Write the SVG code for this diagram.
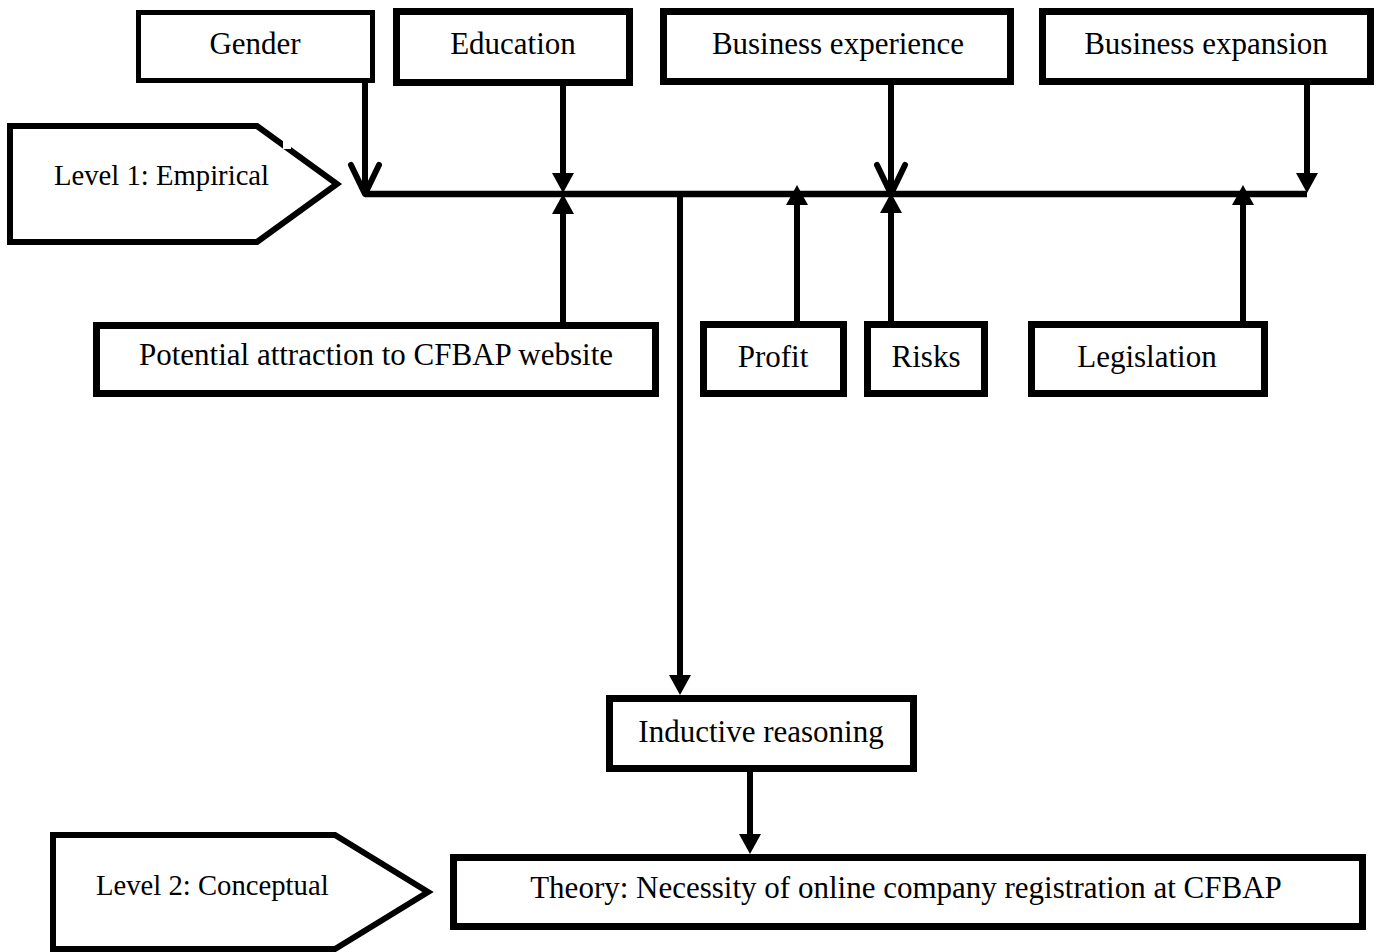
<svg xmlns="http://www.w3.org/2000/svg" width="1379" height="952" viewBox="0 0 1379 952">
  <style>
    .box { fill: #ffffff; stroke: #000000; stroke-width: 7; }
    .thin { stroke-width: 5; }
    .level { fill: #ffffff; stroke: #000000; stroke-width: 6; stroke-linejoin: miter; }
    .lbl { font-family: "Liberation Serif", "Times New Roman", serif; font-size: 31px; fill: #000000; text-anchor: middle; }
    .lvl { font-family: "Liberation Serif", "Times New Roman", serif; font-size: 28.7px; fill: #000000; }
    .wire { fill: none; stroke: #000000; stroke-width: 6.5; }
    .arrow { fill: none; stroke: #000000; stroke-width: 6; }
  </style>
  <defs>
    <marker id="tri" viewBox="0 0 20 22" refX="6" refY="11" markerWidth="20" markerHeight="22" markerUnits="userSpaceOnUse" orient="auto">
      <path d="M0,0 L20,11 L0,22 Z" fill="#000000"/>
    </marker>
    <marker id="vee" viewBox="-34 -20 40 40" refX="0" refY="0" markerWidth="40" markerHeight="40" markerUnits="userSpaceOnUse" orient="auto" overflow="visible">
      <path d="M-29,-14 L0,0 L-29,14" fill="none" stroke="#000000" stroke-width="6" stroke-linecap="round" stroke-linejoin="round"/>
    </marker>
  </defs>

  <g id="level1">
    <polygon class="level" points="10,126 257,126 337,184 257,242 10,242"/>
    <rect x="283" y="140" width="8" height="9" fill="#ffffff"/>
    <text class="lvl" x="54" y="185">Level 1: Empirical</text>
  </g>
  <g id="level2">
    <polygon class="level" points="53,835 335,835 428,892 335,949 53,949"/>
    <text class="lvl" x="96" y="895">Level 2: Conceptual</text>
  </g>

  <g id="connectors">
    <line class="wire" x1="365" y1="194" x2="1307" y2="194"/>
    <line class="arrow" x1="365" y1="83" x2="365" y2="194" marker-end="url(#vee)"/>
    <line class="arrow" x1="563" y1="86" x2="563" y2="179" marker-end="url(#tri)"/>
    <line class="arrow" x1="891" y1="85" x2="891" y2="194" marker-end="url(#vee)"/>
    <line class="arrow" x1="1307" y1="85" x2="1307" y2="179" marker-end="url(#tri)"/>
    <line class="arrow" x1="563" y1="322" x2="563" y2="208" marker-end="url(#tri)"/>
    <line class="arrow" x1="797" y1="321" x2="797" y2="199" marker-end="url(#tri)"/>
    <line class="arrow" x1="891" y1="321" x2="891" y2="207" marker-end="url(#tri)"/>
    <line class="arrow" x1="1243" y1="321" x2="1243" y2="199" marker-end="url(#tri)"/>
    <line class="arrow" x1="680" y1="194" x2="680" y2="681" marker-end="url(#tri)"/>
    <line class="arrow" x1="750" y1="772" x2="750" y2="840" marker-end="url(#tri)"/>
  </g>

  <g id="gender">
    <rect class="box thin" x="138.5" y="12.5" width="234" height="68"/>
    <text class="lbl" x="255" y="54">Gender</text>
  </g>
  <g id="education">
    <rect class="box" x="396.5" y="11.5" width="233" height="71"/>
    <text class="lbl" x="513" y="54">Education</text>
  </g>
  <g id="business-experience">
    <rect class="box" x="663.5" y="11.5" width="347" height="70"/>
    <text class="lbl" x="838" y="54">Business experience</text>
  </g>
  <g id="business-expansion">
    <rect class="box" x="1042.5" y="11.5" width="328" height="70"/>
    <text class="lbl" x="1206" y="54">Business expansion</text>
  </g>
  <g id="potential">
    <rect class="box" x="96.5" y="325.5" width="559" height="68"/>
    <text class="lbl" x="376" y="365">Potential attraction to CFBAP website</text>
  </g>
  <g id="profit">
    <rect class="box" x="703.5" y="324.5" width="140" height="69"/>
    <text class="lbl" x="773" y="367">Profit</text>
  </g>
  <g id="risks">
    <rect class="box" x="867.5" y="324.5" width="117" height="69"/>
    <text class="lbl" x="926" y="367">Risks</text>
  </g>
  <g id="legislation">
    <rect class="box" x="1031.5" y="324.5" width="233" height="69"/>
    <text class="lbl" x="1147" y="367">Legislation</text>
  </g>
  <g id="inductive">
    <rect class="box" x="609.5" y="698.5" width="304" height="70"/>
    <text class="lbl" x="761" y="742">Inductive reasoning</text>
  </g>
  <g id="theory">
    <rect class="box" x="453.5" y="857.5" width="909" height="69"/>
    <text class="lbl" x="906" y="898">Theory: Necessity of online company registration at CFBAP</text>
  </g>
</svg>
